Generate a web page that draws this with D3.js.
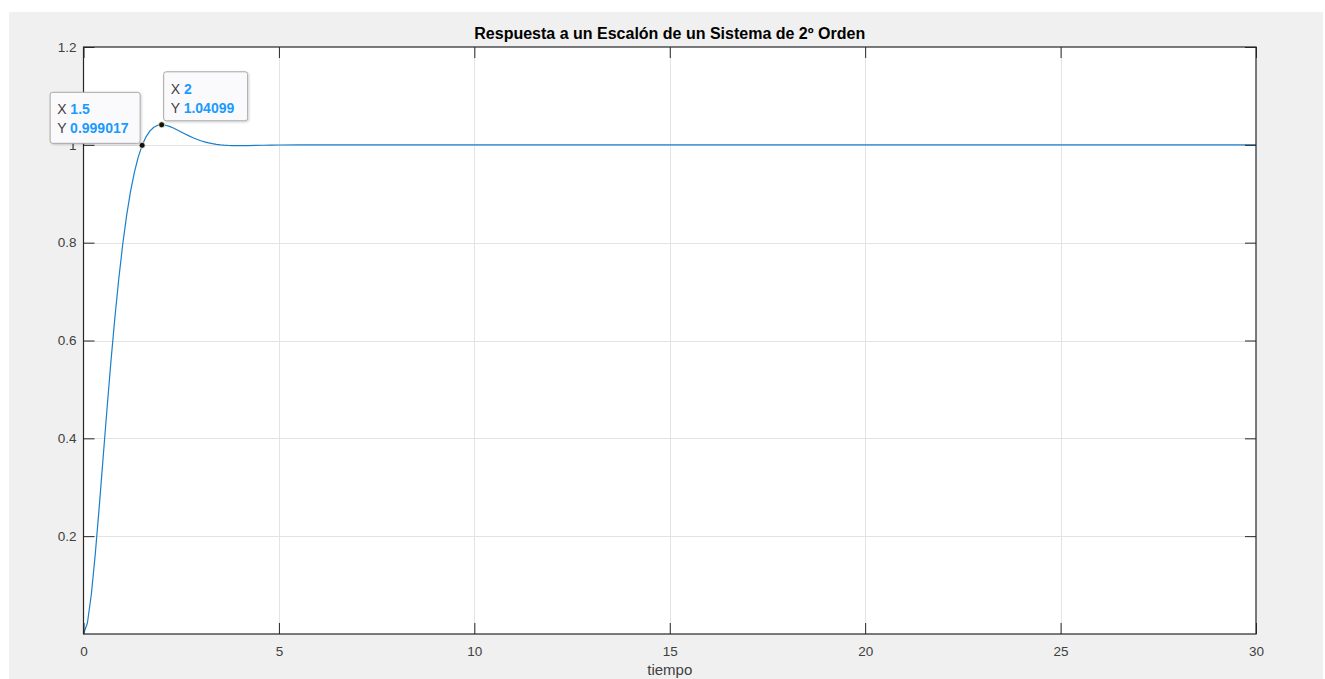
<!DOCTYPE html>
<html>
<head>
<meta charset="utf-8">
<script src="https://cdn.jsdelivr.net/npm/d3@7"></script>
<style>
  html, body { margin: 0; padding: 0; background: #ffffff; }
  svg { display: block; font-family: "Liberation Sans", Arial, Helvetica, sans-serif; }
</style>
</head>
<body>
<svg id="chart" width="1325" height="679"></svg>
<script>
// Step response of a second-order system (time in seconds, output)
const tiempo = [
  0, 0.1, 0.2, 0.3, 0.4, 0.5, 0.6, 0.7, 0.8, 0.9,
  1.0, 1.1, 1.2, 1.3, 1.4, 1.5, 1.6, 1.7, 1.8, 1.9,
  2.0, 2.1, 2.2, 2.3, 2.4, 2.5, 2.6, 2.7, 2.8, 2.9,
  3.0, 3.1, 3.2, 3.3, 3.4, 3.5, 3.6, 3.7, 3.8, 3.9,
  4.0, 4.2, 4.4, 4.6, 4.8, 5.0, 5.5, 6, 7, 8,
  10, 12, 15, 18, 20, 22, 25, 28, 30
];
const respuesta = [
  0, 0.02253, 0.08068, 0.16229, 0.25741, 0.35827, 0.45902, 0.55536, 0.64437, 0.72427,
  0.79411, 0.85366, 0.90320, 0.94332, 0.97490, 0.999017, 1.01643, 1.02844, 1.03595, 1.03987,
  1.04099, 1.04009, 1.03770, 1.03436, 1.03045, 1.02632, 1.02218, 1.01824, 1.01458, 1.01131,
  1.00845, 1.00600, 1.00397, 1.00233, 1.00103, 1.00004, 0.99933, 0.99883, 0.99852, 0.99836,
  0.99832, 0.99845, 0.99875, 0.99910, 0.99940, 0.99965, 0.99998, 1.00007, 1.00000, 1.00000,
  1.00000, 1.00000, 1.00000, 1.00000, 1.00000, 1.00000, 1.00000, 1.00000, 1.00000
];

const xTicks = [0, 5, 10, 15, 20, 25, 30];
const yTicks = [0.2, 0.4, 0.6, 0.8, 1, 1.2];

// Data tips: [x, y]
const tipPoints = [[1.5, 0.999017], [2, 1.04099]];

const titulo = "Respuesta a un Escalón de un Sistema de 2º Orden";
const etiquetaX = "tiempo";

const svg = d3.select("#chart");
const W = 1325, H = 679;
const plot = { left: 83.5, right: 1256, top: 47, bottom: 634 };

// figure background
svg.append("rect").attr("x", 9).attr("y", 12).attr("width", 1314).attr("height", H - 12)
  .attr("fill", "#f0f0f0");

const x = d3.scaleLinear().domain([0, 30]).range([plot.left, plot.right]);
const y = d3.scaleLinear().domain([0, 1.2]).range([plot.bottom, plot.top]);

// axes area
svg.append("rect").attr("x", plot.left).attr("y", plot.top)
  .attr("width", plot.right - plot.left).attr("height", plot.bottom - plot.top)
  .attr("fill", "#ffffff");

// grid
const grid = svg.append("g").attr("stroke", "#e3e3e3").attr("stroke-width", 1);
grid.selectAll("line.gx").data(xTicks.slice(1, -1)).join("line")
  .attr("x1", d => Math.round(x(d)) + 0.5).attr("x2", d => Math.round(x(d)) + 0.5)
  .attr("y1", plot.top).attr("y2", plot.bottom);
grid.selectAll("line.gy").data(yTicks.slice(0, -1)).join("line")
  .attr("y1", d => Math.round(y(d)) + 0.5).attr("y2", d => Math.round(y(d)) + 0.5)
  .attr("x1", plot.left).attr("x2", plot.right);

// response curve
const line = d3.line().x((d, i) => x(tiempo[i])).y(d => y(d));
svg.append("path").datum(respuesta)
  .attr("d", line)
  .attr("fill", "none")
  .attr("stroke", "#1a7fcb")
  .attr("stroke-width", 1.2)
  .attr("stroke-linejoin", "round");

// axes with inward ticks on all four sides
const tickLen = 11;
const axisColor = "#262626";
const textColor = "#404040";

function styleAxis(g) {
  g.select(".domain").remove();
  g.selectAll(".tick line").attr("stroke", axisColor).attr("stroke-width", 1);
  g.selectAll(".tick text").attr("fill", textColor).attr("font-size", 13.5)
    .attr("font-family", "Liberation Sans, Arial, sans-serif");
}

const xAxisB = d3.axisBottom(x).tickValues(xTicks).tickFormat(d3.format("d"))
  .tickSizeInner(-tickLen).tickSizeOuter(0).tickPadding(12);
svg.append("g").attr("transform", `translate(0,${plot.bottom})`).call(xAxisB).call(styleAxis);

const xAxisT = d3.axisTop(x).tickValues(xTicks).tickFormat("")
  .tickSizeInner(-tickLen).tickSizeOuter(0);
svg.append("g").attr("transform", `translate(0,${plot.top})`).call(xAxisT).call(styleAxis);

const yAxisL = d3.axisLeft(y).tickValues(yTicks).tickFormat(d3.format("~g"))
  .tickSizeInner(-tickLen).tickSizeOuter(0).tickPadding(7);
svg.append("g").attr("transform", `translate(${plot.left},0)`).call(yAxisL).call(styleAxis);

const yAxisR = d3.axisRight(y).tickValues(yTicks).tickFormat("")
  .tickSizeInner(-tickLen).tickSizeOuter(0);
svg.append("g").attr("transform", `translate(${plot.right},0)`).call(yAxisR).call(styleAxis);

// box
svg.append("rect").attr("x", plot.left).attr("y", plot.top)
  .attr("width", plot.right - plot.left).attr("height", plot.bottom - plot.top)
  .attr("fill", "none").attr("stroke", axisColor).attr("stroke-width", 1.2);

// title and x label
svg.append("text").attr("x", (plot.left + plot.right) / 2).attr("y", 39)
  .attr("text-anchor", "middle").attr("font-weight", "bold").attr("font-size", 16)
  .attr("fill", "#000").text(titulo);
svg.append("text").attr("x", (plot.left + plot.right) / 2).attr("y", 675)
  .attr("text-anchor", "middle").attr("font-size", 15)
  .attr("fill", textColor).text(etiquetaX);

// data tips
const defs = svg.append("defs");
const f = defs.append("filter").attr("id", "sombra").attr("x", "-10%").attr("y", "-10%")
  .attr("width", "130%").attr("height", "140%");
f.append("feDropShadow").attr("dx", 1).attr("dy", 1).attr("stdDeviation", 1)
  .attr("flood-color", "#000").attr("flood-opacity", 0.18);

const tipBoxes = [
  { w: 90, h: 51, dx: -92, dy: -53 },
  { w: 84, h: 49, dx: 2, dy: -53 }
];

tipPoints.forEach((p, i) => {
  const px = x(p[0]), py = y(p[1]);
  const b = tipBoxes[i];
  const bx = px + b.dx, by = py + b.dy;
  const g = svg.append("g");
  g.append("rect").attr("x", bx).attr("y", by).attr("width", b.w).attr("height", b.h)
    .attr("rx", 2.5).attr("fill", "#fafafd").attr("stroke", "#a8a8a8").attr("stroke-width", 1)
    .attr("filter", "url(#sombra)");
  const lines = [["X", String(p[0])], ["Y", String(p[1])]];
  lines.forEach((ln, j) => {
    const t = g.append("text").attr("x", bx + 7).attr("y", by + 22 + j * 19)
      .attr("font-size", 14);
    t.append("tspan").attr("fill", textColor).text(ln[0] + " ");
    t.append("tspan").attr("fill", "#1a9bff").attr("font-weight", "bold").text(ln[1]);
  });
  svg.append("circle").attr("cx", px).attr("cy", py).attr("r", 3)
    .attr("fill", "#111").attr("stroke", "#f2f0c0").attr("stroke-width", 0.8);
});
</script>
</body>
</html>
